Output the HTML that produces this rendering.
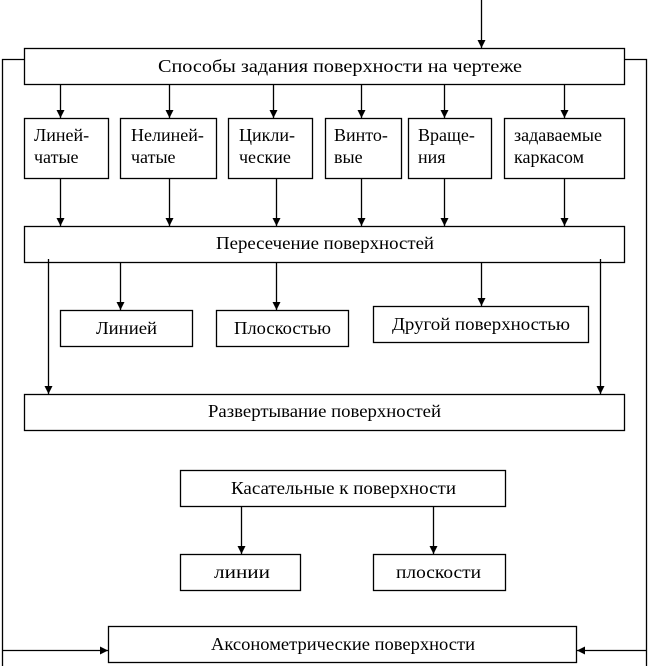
<!DOCTYPE html>
<html><head><meta charset="utf-8"><style>
html,body{margin:0;padding:0;background:#fff;}
svg{display:block;}
text{font-family:"Liberation Serif","Times New Roman",serif;font-size:18px;fill:#000;}
</style></head><body>
<svg width="650" height="666" viewBox="0 0 650 666" xmlns="http://www.w3.org/2000/svg">
<defs><marker id="a" markerWidth="8" markerHeight="8" refX="8" refY="4" orient="auto" markerUnits="userSpaceOnUse"><path d="M0,0 L8,4 L0,8 z" fill="#000"/></marker></defs>
<g fill="none" stroke="#000" stroke-width="1.3">
<rect x="24.5" y="48.5" width="600" height="36"/>
<rect x="24.5" y="118.5" width="84" height="60"/>
<rect x="120.5" y="118.5" width="96" height="60"/>
<rect x="228.5" y="118.5" width="84" height="60"/>
<rect x="325.5" y="118.5" width="76" height="60"/>
<rect x="408.5" y="118.5" width="83" height="60"/>
<rect x="504.5" y="118.5" width="120" height="60"/>
<rect x="24.5" y="226.5" width="600" height="36"/>
<rect x="60.5" y="310.5" width="132" height="36"/>
<rect x="216.5" y="310.5" width="132" height="36"/>
<rect x="373.5" y="306.5" width="215" height="36"/>
<rect x="24.5" y="394.5" width="600" height="36"/>
<rect x="180.5" y="470.5" width="325" height="36"/>
<rect x="180.5" y="554.5" width="120" height="36"/>
<rect x="373.5" y="554.5" width="132" height="36"/>
<rect x="108.5" y="626.5" width="468" height="36"/>
<polyline points="24,59.5 2.5,59.5 2.5,666"/>
<polyline points="624,59.5 646.5,59.5 646.5,666"/>
</g>
<g stroke="#000" stroke-width="1.3" marker-end="url(#a)">
<line x1="481.5" y1="0" x2="481.5" y2="48"/>
<line x1="60.5" y1="84" x2="60.5" y2="118"/>
<line x1="169.5" y1="84" x2="169.5" y2="118"/>
<line x1="273.5" y1="84" x2="273.5" y2="118"/>
<line x1="361.5" y1="84" x2="361.5" y2="118"/>
<line x1="444.5" y1="84" x2="444.5" y2="118"/>
<line x1="564.5" y1="84" x2="564.5" y2="118"/>
<line x1="60.5" y1="178" x2="60.5" y2="226"/>
<line x1="169.5" y1="178" x2="169.5" y2="226"/>
<line x1="276.5" y1="178" x2="276.5" y2="226"/>
<line x1="361.5" y1="178" x2="361.5" y2="226"/>
<line x1="444.5" y1="178" x2="444.5" y2="226"/>
<line x1="564.5" y1="178" x2="564.5" y2="226"/>
<line x1="48.5" y1="259" x2="48.5" y2="394"/>
<line x1="120.5" y1="262" x2="120.5" y2="310"/>
<line x1="276.5" y1="262" x2="276.5" y2="310"/>
<line x1="481.5" y1="262" x2="481.5" y2="306"/>
<line x1="600.5" y1="259" x2="600.5" y2="394"/>
<line x1="241.5" y1="506" x2="241.5" y2="554"/>
<line x1="433.5" y1="506" x2="433.5" y2="554"/>
<line x1="2" y1="650.5" x2="108" y2="650.5"/>
<line x1="646" y1="650.5" x2="577" y2="650.5"/>
</g>
<text x="158" y="72" textLength="364" lengthAdjust="spacingAndGlyphs">Способы задания поверхности на чертеже</text>
<text x="34" y="141">Линей-</text><text x="34" y="163">чатые</text>
<text x="131" y="141">Нелиней-</text><text x="131" y="163">чатые</text>
<text x="239" y="141">Цикли-</text><text x="239" y="163">ческие</text>
<text x="334" y="141">Винто-</text><text x="334" y="163">вые</text>
<text x="418" y="141">Враще-</text><text x="418" y="163">ния</text>
<text x="514" y="141">задаваемые</text><text x="514" y="163">каркасом</text>
<text x="216" y="249" textLength="218" lengthAdjust="spacingAndGlyphs">Пересечение поверхностей</text>
<text x="96" y="334" textLength="61" lengthAdjust="spacingAndGlyphs">Линией</text>
<text x="234" y="334" textLength="97" lengthAdjust="spacingAndGlyphs">Плоскостью</text>
<text x="392" y="330" textLength="178" lengthAdjust="spacingAndGlyphs">Другой поверхностью</text>
<text x="208" y="417" textLength="233" lengthAdjust="spacingAndGlyphs">Развертывание поверхностей</text>
<text x="231" y="494" textLength="225" lengthAdjust="spacingAndGlyphs">Касательные к поверхности</text>
<text x="214" y="578" textLength="56" lengthAdjust="spacingAndGlyphs">линии</text>
<text x="396" y="578" textLength="85" lengthAdjust="spacingAndGlyphs">плоскости</text>
<text x="211" y="650" textLength="264" lengthAdjust="spacingAndGlyphs">Аксонометрические поверхности</text>
</svg>
</body></html>
